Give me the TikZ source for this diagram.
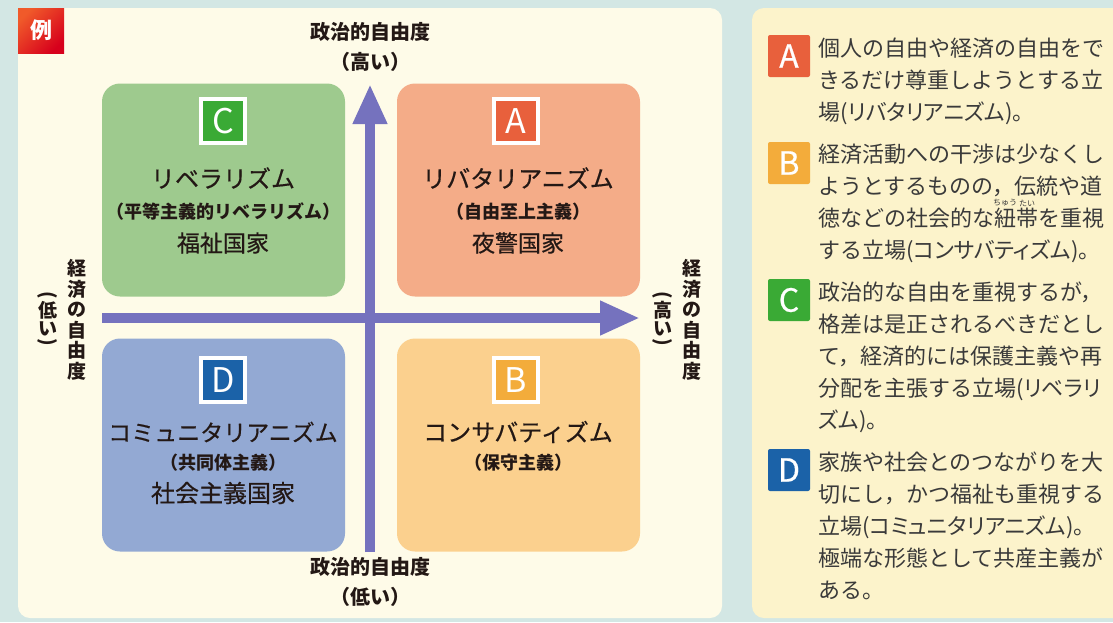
\documentclass[tikz,border=0pt]{standalone}
\usepackage{fontspec}
\usetikzlibrary{arrows.meta}
\newfontfamily\jp{Noto Sans CJK JP}
\newfontfamily\jpm[FakeBold=0.5]{Noto Sans CJK JP}
\newfontfamily\jpp[RawFeature=+palt]{Noto Sans CJK JP}
\definecolor{outerbg}{HTML}{D3E7E4}
\definecolor{panelL}{HTML}{FEFBE8}
\definecolor{panelR}{HTML}{FCF3CB}
\definecolor{boxC}{HTML}{9ECA8E}
\definecolor{boxA}{HTML}{F4AC88}
\definecolor{boxD}{HTML}{93A9D3}
\definecolor{boxB}{HTML}{FBD08E}
\definecolor{badC}{HTML}{3AAA35}
\definecolor{badA}{HTML}{E8603C}
\definecolor{badD}{HTML}{1B62A8}
\definecolor{badB}{HTML}{F3AC3B}
\definecolor{axiscol}{HTML}{7572BE}
\definecolor{ink}{HTML}{231815}
\definecolor{rink}{HTML}{3A3A3A}
\definecolor{reiA}{HTML}{F05A2A}
\definecolor{reiB}{HTML}{D7001C}
\tikzset{
  qbox/.style={rounded corners=18pt, minimum width=243pt, minimum height=213pt, inner sep=0pt},
  qbadge/.style={draw=white, line width=3.5pt, minimum width=44pt, minimum height=44pt, inner sep=0pt, text=white, font=\jp\fontsize{34}{34}\selectfont},
  rbadge/.style={rounded corners=2pt, minimum width=42pt, minimum height=42pt, inner sep=0pt, text=white, font=\jpm\fontsize{32}{32}\selectfont},
  qtitle/.style={text=ink, font=\jpm\fontsize{24}{24}\selectfont, inner sep=0pt},
  qsub/.style={text=ink, font=\jp\bfseries\fontsize{18}{18}\selectfont, inner sep=0pt},
  axlab/.style={text=ink, font=\jp\bfseries\fontsize{20}{20}\selectfont, inner sep=0pt},
  vlab/.style={text=ink, font=\jp\bfseries\fontsize{19}{20.5}\selectfont, inner sep=0pt, align=center},
  rline/.style={anchor=base west, inner sep=0pt, text=rink, font=\jp\fontsize{22}{22}\selectfont},
  ruby/.style={inner sep=0pt, text=rink, font=\jp\fontsize{8}{8}\selectfont},
  axisarrow/.style={draw=axiscol, line width=10pt, -{Triangle[length=40pt,width=32pt]}},
}
\newcommand{\vpo}{\rotatebox[origin=c]{-90}{(}}
\newcommand{\vpc}{\rotatebox[origin=c]{-90}{)}}
\begin{document}
\begin{tikzpicture}[x=1pt,y=-1pt]
\useasboundingbox (0,0) rectangle (1113,622);
\fill[outerbg] (0,0) rectangle (1113,622);
\fill[panelL, rounded corners=12pt] (18,8) rectangle (722,618);
\fill[panelR, rounded corners=12pt] (752,8) rectangle (1140,618);

% badge
\node[minimum width=46pt, minimum height=45pt, inner sep=0pt, left color=reiA, right color=reiB, shading angle=45, text=white, font=\jp\bfseries\fontsize{22}{22}\selectfont] (rei) at (41,30.5) {例};

% quadrant boxes
\node[qbox, fill=boxC] (boxCn) at (223.5,190) {};
\node[qbox, fill=boxA] (boxAn) at (518.5,190) {};
\node[qbox, fill=boxD] (boxDn) at (223.5,445) {};
\node[qbox, fill=boxB] (boxBn) at (518.5,445) {};

% axes
\coordinate (vbot) at (370,552);
\coordinate (vtop) at (370,84);
\coordinate (hleft) at (102,318);
\coordinate (hright) at (640,318);
\draw[axisarrow] (hleft) -- (hright);
\draw[axisarrow] (vbot) -- (vtop);

% badges in boxes
\node[qbadge, fill=badC] (bC) at (223,121) {C};
\node[qbadge, fill=badA] (bA) at (516,121) {A};
\node[qbadge, fill=badD] (bD) at (223,380) {D};
\node[qbadge, fill=badB] (bB) at (516,380) {B};

% box texts
\node[qtitle] (tC1) at (223,178) {リベラリズム};
\node[qsub] (tC2) at (223,212) {（平等主義的リベラリズム）};
\node[qtitle, font=\jpm\fontsize{23}{23}\selectfont] (tC3) at (223,243) {福祉国家};

\node[qtitle] (tA1) at (518,178) {リバタリアニズム};
\node[qsub] (tA2) at (518,212) {（自由至上主義）};
\node[qtitle, font=\jpm\fontsize{23}{23}\selectfont] (tA3) at (518,243) {夜警国家};

\node[qtitle, font=\jpm\fontsize{23}{23}\selectfont] (tD1) at (223,432) {コミュニタリアニズム};
\node[qsub] (tD2) at (223,463) {（共同体主義）};
\node[qtitle] (tD3) at (223,493) {社会主義国家};

\node[qtitle] (tB1) at (518,432) {コンサバティズム};
\node[qsub] (tB2) at (518,463) {（保守主義）};

% axis labels
\node[axlab] (top1) at (370,32) {政治的自由度};
\node[axlab] (top2) at (370,62) {（高い）};
\node[axlab] (bot1) at (370,567) {政治的自由度};
\node[axlab] (bot2) at (370,597) {（低い）};

\node[vlab] (left1) at (77,320) {経\\済\\の\\自\\由\\度};
\node[axlab, font=\jp\bfseries\fontsize{19}{19}\selectfont] (lp1) at (48,296) {\vpo};
\node[axlab, font=\jp\bfseries\fontsize{19}{19}\selectfont] (lp2) at (48,310) {低};
\node[axlab, font=\jp\bfseries\fontsize{19}{19}\selectfont] (lp3) at (48,329) {い};
\node[axlab, font=\jp\bfseries\fontsize{19}{19}\selectfont] (lp4) at (48,343) {\vpc};

\node[vlab] (right1) at (692,320) {経\\済\\の\\自\\由\\度};
\node[axlab, font=\jp\bfseries\fontsize{19}{19}\selectfont] (rp1) at (663,296) {\vpo};
\node[axlab, font=\jp\bfseries\fontsize{19}{19}\selectfont] (rp2) at (663,310) {高};
\node[axlab, font=\jp\bfseries\fontsize{19}{19}\selectfont] (rp3) at (663,329) {い};
\node[axlab, font=\jp\bfseries\fontsize{19}{19}\selectfont] (rp4) at (663,343) {\vpc};

% right panel
\node[rbadge, fill=badA] (rA) at (789,56) {A};
\node[rline] (la1) at (818,56) {個人の自由や経済の自由をで};
\node[rline] (la2) at (818,88) {きるだけ尊重しようとする立};
\node[rline] (la3) at (818,120) {場{\jpp (リバタリアニズム)}。};

\node[rbadge, fill=badB] (rB) at (789,163) {B};
\node[rline] (lb1) at (818,162) {経済活動への干渉は少なくし};
\node[rline] (lb2) at (818,194) {ようとするものの，伝統や道};
\node[rline] (lb3) at (818,226) {徳などの社会的な紐帯を重視};
\node[rline] (lb4) at (818,258) {する立場{\jpp (コンサバティズム)}。};
\node[ruby] (rb1) at (1005,203) {ちゅう};
\node[ruby] (rb2) at (1027,203) {たい};

\node[rbadge, fill=badC] (rC) at (789,300) {C};
\node[rline] (lc1) at (818,300) {政治的な自由を重視するが，};
\node[rline] (lc2) at (818,332) {格差は是正されるべきだとし};
\node[rline] (lc3) at (818,364) {て，経済的には保護主義や再};
\node[rline] (lc4) at (818,396) {分配を主張する立場{\jpp (リベラリ}};
\node[rline] (lc5) at (818,428) {{\jpp ズム)}。};

\node[rbadge, fill=badD] (rD) at (789,470) {D};
\node[rline] (ld1) at (818,470) {家族や社会とのつながりを大};
\node[rline] (ld2) at (818,502) {切にし，かつ福祉も重視する};
\node[rline] (ld3) at (818,534) {立場{\jpp (コミュニタリアニズム)}。};
\node[rline] (ld4) at (818,566) {極端な形態として共産主義が};
\node[rline] (ld5) at (818,598) {ある。};
\end{tikzpicture}
\end{document}
